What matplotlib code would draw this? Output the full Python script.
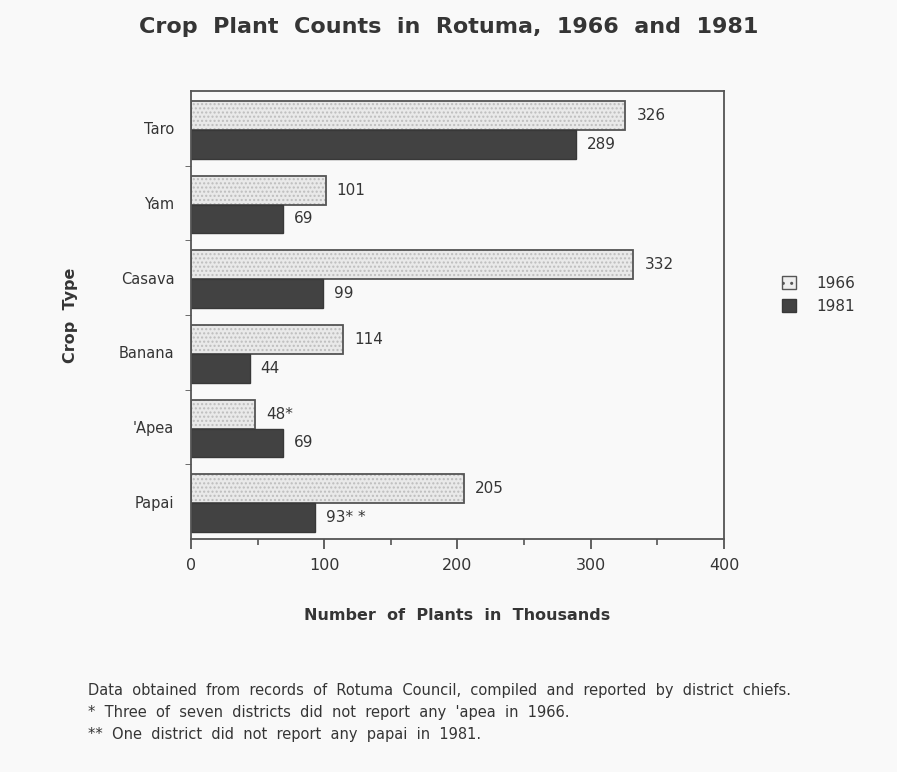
import numpy as np
import matplotlib.pyplot as plt
from matplotlib.patches import Patch

crops = ['Taro', 'Yam', 'Casava', 'Banana', "'Apea", 'Papai']
counts_1966 = [326, 101, 332, 114, 48, 205]
counts_1981 = [289, 69, 99, 44, 69, 93]
labels_1966 = ['326', '101', '332', '114', '48*', '205']
labels_1981 = ['289', '69', '99', '44', '69', '93* *']

plt.rcParams['font.family'] = ['DejaVu Sans']
ink = '#353535'
bg = '#f9f9f9'

fig = plt.figure(figsize=(8.97, 7.72), dpi=100, facecolor=bg)
ax = fig.add_axes([0.2129, 0.3018, 0.5942, 0.5803], facecolor=bg)

y = np.arange(len(crops)) + 0.02
h = 0.385

# 1966: light dotted fill with dark outline
ax.barh(y - h / 2, counts_1966, height=h, color='#e9e9e9', hatch='....',
        edgecolor='#bdbdbd', linewidth=0)
ax.barh(y - h / 2, counts_1966, height=h, fill=False, edgecolor='#555555', linewidth=1.3)
# 1981: dark fill
ax.barh(y + h / 2, counts_1981, height=h, color='#424242', edgecolor='#383838', linewidth=1)

for yi, v, s in zip(y, counts_1966, labels_1966):
    ax.annotate(s, (v, yi - h / 2), xytext=(8, 0), textcoords='offset points',
                va='center', ha='left', fontsize=11, color=ink)
for yi, v, s in zip(y, counts_1981, labels_1981):
    ax.annotate(s, (v, yi + h / 2), xytext=(8, 0), textcoords='offset points',
                va='center', ha='left', fontsize=11, color=ink)

ax.set_xlim(0, 400)
ax.set_ylim(len(crops) - 0.5, -0.5)
ax.set_xticks([0, 100, 200, 300, 400])
ax.set_xticks([50, 150, 250, 350], minor=True)
ax.set_yticks(np.arange(len(crops)))
ax.set_yticklabels(crops)
ax.set_yticks(np.arange(len(crops) - 1) + 0.5, minor=True)
ax.tick_params(axis='y', which='major', length=0, pad=12, labelsize=10.5, labelcolor=ink)
ax.tick_params(axis='y', which='minor', length=4, direction='out', color='#555555')
ax.tick_params(axis='x', which='major', length=7, direction='out', color='#555555',
               width=1.3, labelsize=11.5, labelcolor=ink, pad=7)
ax.tick_params(axis='x', which='minor', length=4, direction='out', color='#555555', width=1.2)
for sp in ax.spines.values():
    sp.set_color('#555555')
    sp.set_linewidth(1.3)

ax.set_xlabel('Number  of  Plants  in  Thousands', fontsize=11.5, fontweight='bold',
              color=ink, labelpad=25)
ax.set_ylabel('Crop  Type', fontsize=11.5, fontweight='bold', color=ink, labelpad=29)

fig.text(0.5, 0.965, 'Crop  Plant  Counts  in  Rotuma,  1966  and  1981', ha='center',
         va='center', fontsize=16, fontweight='bold', color=ink)

handles = [Patch(facecolor='#eeeeee', edgecolor='#555555', hatch='..'),
           Patch(facecolor='#424242', edgecolor='#383838')]
fig.legend(handles, ['1966', '1981'], loc='center left', bbox_to_anchor=(0.857, 0.618),
           frameon=False, fontsize=11, handlelength=0.9, handleheight=0.9,
           handletextpad=1.3, labelspacing=0.55, labelcolor=ink)

notes = ['Data  obtained  from  records  of  Rotuma  Council,  compiled  and  reported  by  district  chiefs.',
         "*  Three  of  seven  districts  did  not  report  any  'apea  in  1966.",
         '**  One  district  did  not  report  any  papai  in  1981.']
for i, line in enumerate(notes):
    fig.text(0.098, 0.106 - i * 0.0285, line, ha='left', va='center', fontsize=10.5, color=ink)

fig.savefig('out.png', dpi=100, facecolor=bg)
